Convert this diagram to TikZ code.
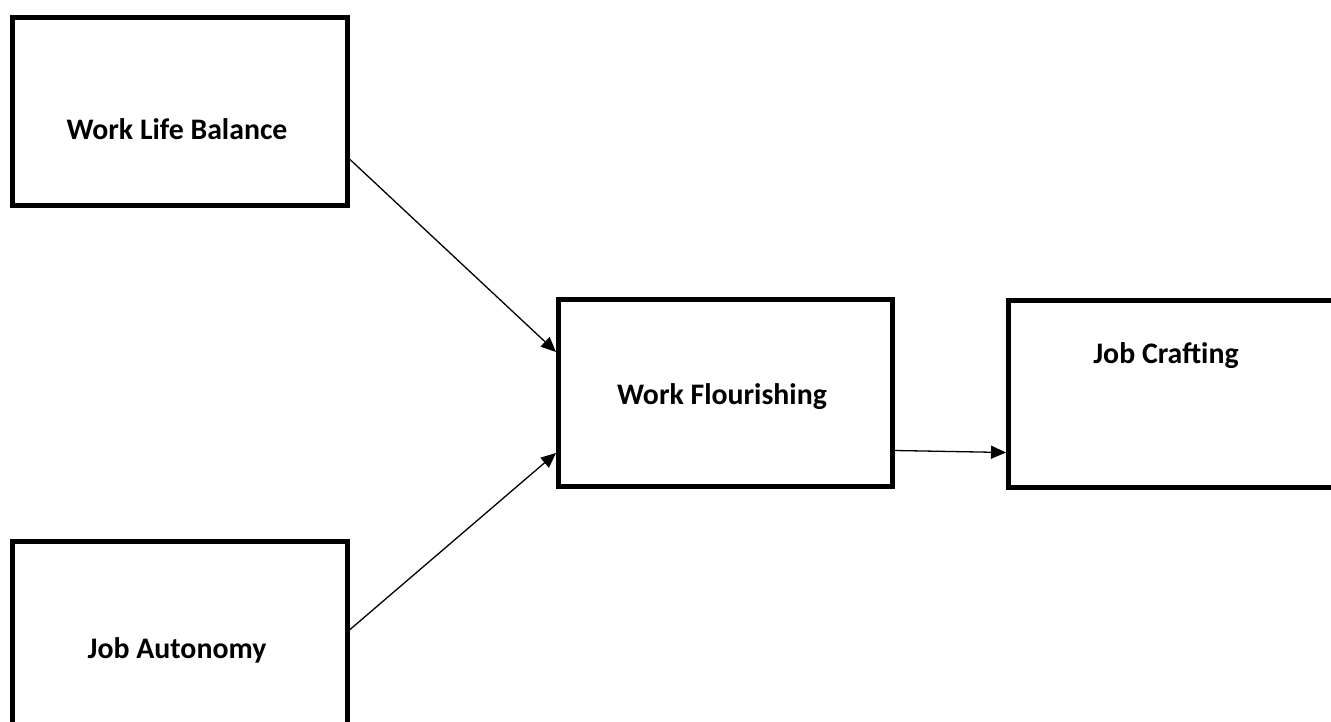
\documentclass[tikz,border=0pt]{standalone}
\usepackage{fontspec}
\setmainfont{Carlito}
\usetikzlibrary{arrows.meta}
\begin{document}
\begin{tikzpicture}[x=1pt,y=-1pt,
  box/.style={draw=black,line width=5pt,fill=none,inner sep=0pt,anchor=north west},
  lbl/.style={font=\fontsize{29.8}{34}\selectfont\bfseries,inner sep=0pt},
  conn/.style={line width=1.3pt,-{Triangle[length=15pt,width=13pt]}}]
\useasboundingbox (0,0) rectangle (1331,722);
\clip (0,0) rectangle (1331,722);
\node[box,minimum width=335pt,minimum height=188pt] (wlb) at (10,15) {};
\node[box,minimum width=335pt,minimum height=220pt] (ja) at (10,539) {};
\node[box,minimum width=334pt,minimum height=187pt] (wf) at (556,297) {};
\node[box,minimum width=380pt,minimum height=187pt] (jc) at (1006,298) {};
\node[lbl] (t1) at (177,129) {Work Life Balance};
\node[lbl] (t2) at (177,650) {Job Autonomy};
\node[lbl] (t3) at (722,397) {Work Flourishing};
\node[lbl] (t4) at (1166,356) {Job Crafting};
\draw[conn] ([yshift=-48pt]wlb.east) -- ([yshift=41pt]wf.west);
\draw[conn] ([yshift=22pt]ja.east) -- ([yshift=-60pt]wf.west);
\draw[conn] ([yshift=-57.5pt]wf.east) -- ([yshift=-58.5pt]jc.west);
\end{tikzpicture}
\end{document}
